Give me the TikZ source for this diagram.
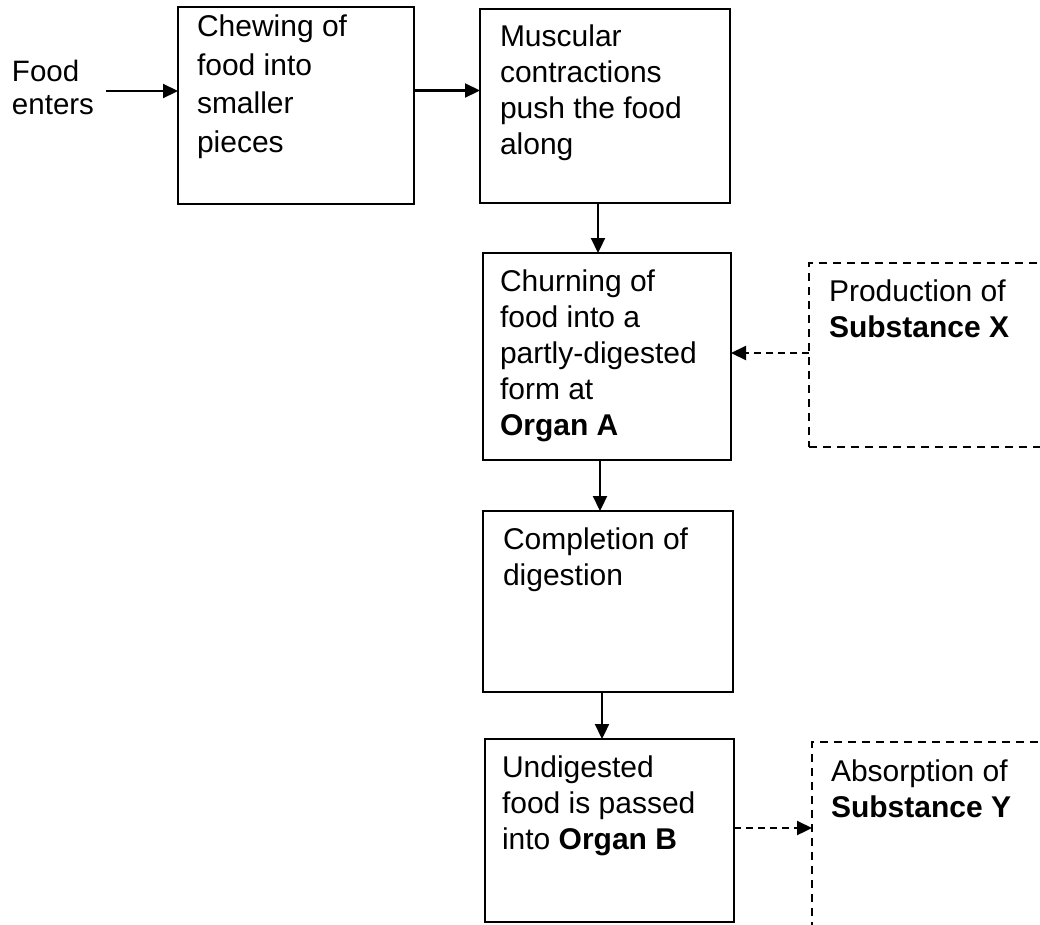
\documentclass[tikz,border=0pt]{standalone}
\usepackage{fontspec}
\setmainfont{Liberation Sans}
\usetikzlibrary{arrows.meta}
\begin{document}
\begin{tikzpicture}[x=1pt,y=-1pt,
  box/.style={draw, line width=2.2pt, inner sep=0pt, outer sep=0pt, anchor=north west},
  dbox/.style={box, dash pattern=on 8pt off 6pt},
  txt/.style={inner sep=0pt, outer sep=0pt, align=left, anchor=north west,
    font=\fontsize{30pt}{36pt}\selectfont},
  arr/.style={line width=2.2pt, -{Triangle[length=15pt,width=14pt]}},
  darr/.style={arr, dash pattern=on 7pt off 5pt}]
\clip (0,0) rectangle (1040,924);
\fill[white] (0,0) rectangle (1040,924);
% boxes
\node[box, minimum width=236pt, minimum height=197pt] (b1) at (178,7) {};
\node[box, minimum width=250pt, minimum height=194pt] (b2) at (480,9) {};
\node[box, minimum width=248pt, minimum height=207pt] (b3) at (483,253) {};
\node[box, minimum width=250pt, minimum height=181pt] (b4) at (483,511) {};
\node[box, minimum width=249pt, minimum height=183pt] (b5) at (485,739) {};
\node[dbox, minimum width=260pt, minimum height=184pt] (bx) at (809,263) {};
\node[dbox, minimum width=260pt, minimum height=210pt] (by) at (812,742) {};
% texts
\node[txt, font=\fontsize{29.5pt}{33pt}\selectfont] (food) at (12,60) {Food\\enters};
\node[txt, font=\fontsize{30pt}{38.5pt}\selectfont] (t1) at (197,15) {Chewing of\\food into\\smaller\\pieces};
\node[txt] (t2) at (500,25) {Muscular\\contractions\\push the food\\along};
\node[txt] (t3) at (500,270) {Churning of\\food into a\\partly-digested\\form at\\\textbf{Organ A}};
\node[txt] (t4) at (503,528) {Completion of\\digestion};
\node[txt] (t5) at (502,756) {Undigested\\food is passed\\into \textbf{Organ B}};
\node[txt] (tx) at (829,280) {Production of\\\textbf{Substance X}};
\node[txt] (ty) at (831,760) {Absorption of\\\textbf{Substance Y}};
% connectors
\coordinate (fa) at (106,91);
\draw[arr] (fa) -- (fa -| b1.west);
\draw[arr] ([yshift=15pt]b1.east) -- ([yshift=15pt]b1.east -| b2.west);
\draw[arr] ([xshift=-7pt]b2.south) -- ([xshift=-7pt]b2.south |- b3.north);
\draw[arr] ([xshift=-7pt]b3.south) -- ([xshift=-7pt]b3.south |- b4.north);
\draw[arr] ([xshift=-6pt]b4.south) -- ([xshift=-6pt]b4.south |- b5.north);
\draw[darr] ([yshift=2pt]bx.west) -- ([yshift=2pt]bx.west -| b3.east);
\draw[darr] ([yshift=2.5pt]b5.east) -- ([yshift=2.5pt]b5.east -| by.west);
\end{tikzpicture}
\end{document}
